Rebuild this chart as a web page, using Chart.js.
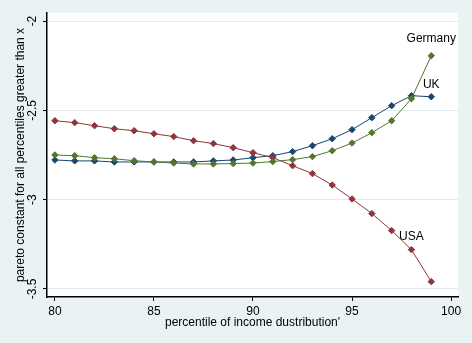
<!DOCTYPE html>
<html>
<head>
<meta charset="utf-8">
<script src="https://cdn.jsdelivr.net/npm/chart.js@4.4.1/dist/chart.umd.min.js"></script>
<style>
  html, body { margin: 0; padding: 0; background: #eaf2f3; }
  #wrap { width: 472px; height: 343px; }
</style>
</head>
<body>
<div id="wrap"><canvas id="chart" width="472" height="343"></canvas></div>
<script>
const percentiles = [80, 81, 82, 83, 84, 85, 86, 87, 88, 89, 90, 91, 92, 93, 94, 95, 96, 97, 98, 99];
const uk = [-2.778, -2.783, -2.783, -2.789, -2.789, -2.789, -2.789, -2.789, -2.783, -2.778,
            -2.765, -2.754, -2.731, -2.698, -2.659, -2.608, -2.541, -2.474, -2.418, -2.424];
const usa = [-2.558, -2.569, -2.586, -2.603, -2.614, -2.631, -2.647, -2.670, -2.686, -2.709,
             -2.737, -2.765, -2.810, -2.854, -2.918, -2.996, -3.078, -3.173, -3.280, -3.459];
const germany = [-2.750, -2.754, -2.765, -2.771, -2.782, -2.789, -2.795, -2.800, -2.800, -2.798,
                 -2.795, -2.787, -2.776, -2.759, -2.726, -2.683, -2.625, -2.558, -2.435, -2.194];
const xTicks = [80, 85, 90, 95, 100];
const yTicks = [-2, -2.5, -3, -3.5];

// which point of each series carries its name
const seriesLabels = [
  { name: "Germany", data: germany, at: 99 },
  { name: "UK", data: uk, at: 99 },
  { name: "USA", data: usa, at: 98 }
];

const FONT = "'Liberation Sans', Arial, sans-serif";
const NAVY = "#1a476f", MAROON = "#90353b", GREEN = "#55752f";
// gap (px) between a marker and its name
const labelGap = { Germany: 11, UK: 6, USA: 7 };

const pts = (arr) => percentiles.map((p, i) => ({ x: p, y: arr[i] }));

function series(label, arr, color) {
  return {
    label, data: pts(arr),
    borderColor: color, backgroundColor: color,
    borderWidth: 1, pointStyle: "rectRot", pointRadius: 3.2,
    pointBorderWidth: 1, tension: 0
  };
}

const background = {
  id: "background",
  beforeDraw(chart) {
    const { ctx, chartArea: a } = chart;
    ctx.save();
    ctx.fillStyle = "#eaf2f3";
    ctx.fillRect(0, 0, chart.width, chart.height);
    ctx.fillStyle = "#ffffff";
    ctx.fillRect(a.left - 1, a.top, a.right - a.left + 1, a.bottom - a.top);
    ctx.restore();
  }
};

const nameLabels = {
  id: "nameLabels",
  afterDatasetsDraw(chart) {
    const { ctx, scales: { x, y } } = chart;
    ctx.save();
    ctx.font = "12px " + FONT;
    ctx.fillStyle = "#000";
    ctx.textAlign = "center";
    ctx.textBaseline = "bottom";
    seriesLabels.forEach(s => {
      const i = percentiles.indexOf(s.at);
      ctx.fillText(s.name, x.getPixelForValue(s.at), y.getPixelForValue(s.data[i]) - labelGap[s.name]);
    });
    ctx.restore();
  }
};

new Chart(document.getElementById("chart"), {
  type: "line",
  data: {
    datasets: [
      series("Germany", germany, GREEN),
      series("USA", usa, MAROON),
      series("UK", uk, NAVY)
    ]
  },
  options: {
    responsive: false,
    animation: false,
    layout: { padding: { top: 13, right: 14, left: 0, bottom: 0 } },
    plugins: { legend: { display: false }, tooltip: { enabled: false } },
    scales: {
      x: {
        type: "linear", min: 79.6, max: 100.35,
        afterBuildTicks: (s) => { s.ticks = xTicks.map(v => ({ value: v })); },
        afterFit: (s) => { s.height = 46; },
        grid: { drawOnChartArea: false, tickColor: "#000", tickLength: 4, tickWidth: 1 },
        border: { color: "#000", width: 1.5 },
        ticks: { color: "#000", font: { family: FONT, size: 12 }, padding: 3, maxRotation: 0 },
        title: {
          display: true, text: "percentile of income dustribution'",
          color: "#000", font: { family: FONT, size: 12 }, padding: { top: 0, bottom: 13 }
        }
      },
      y: {
        type: "linear", min: -3.545, max: -1.955,
        afterBuildTicks: (s) => { s.ticks = yTicks.map(v => ({ value: v })); },
        afterFit: (s) => { s.width = 47; },
        grid: { color: "#e3ebee", lineWidth: 1, tickColor: "#000", tickLength: 4 },
        border: { color: "#000", width: 1.5 },
        ticks: {
          color: "#000", font: { family: FONT, size: 12 }, padding: 0,
          minRotation: 90, maxRotation: 90, crossAlign: "center",
          callback: (v) => String(v)
        },
        title: {
          display: true, text: "pareto constant for all percentiles greater than x",
          color: "#000", font: { family: FONT, size: 12 }, padding: { top: 13, bottom: 0 }
        }
      }
    }
  },
  plugins: [background, nameLabels]
});
</script>
</body>
</html>
